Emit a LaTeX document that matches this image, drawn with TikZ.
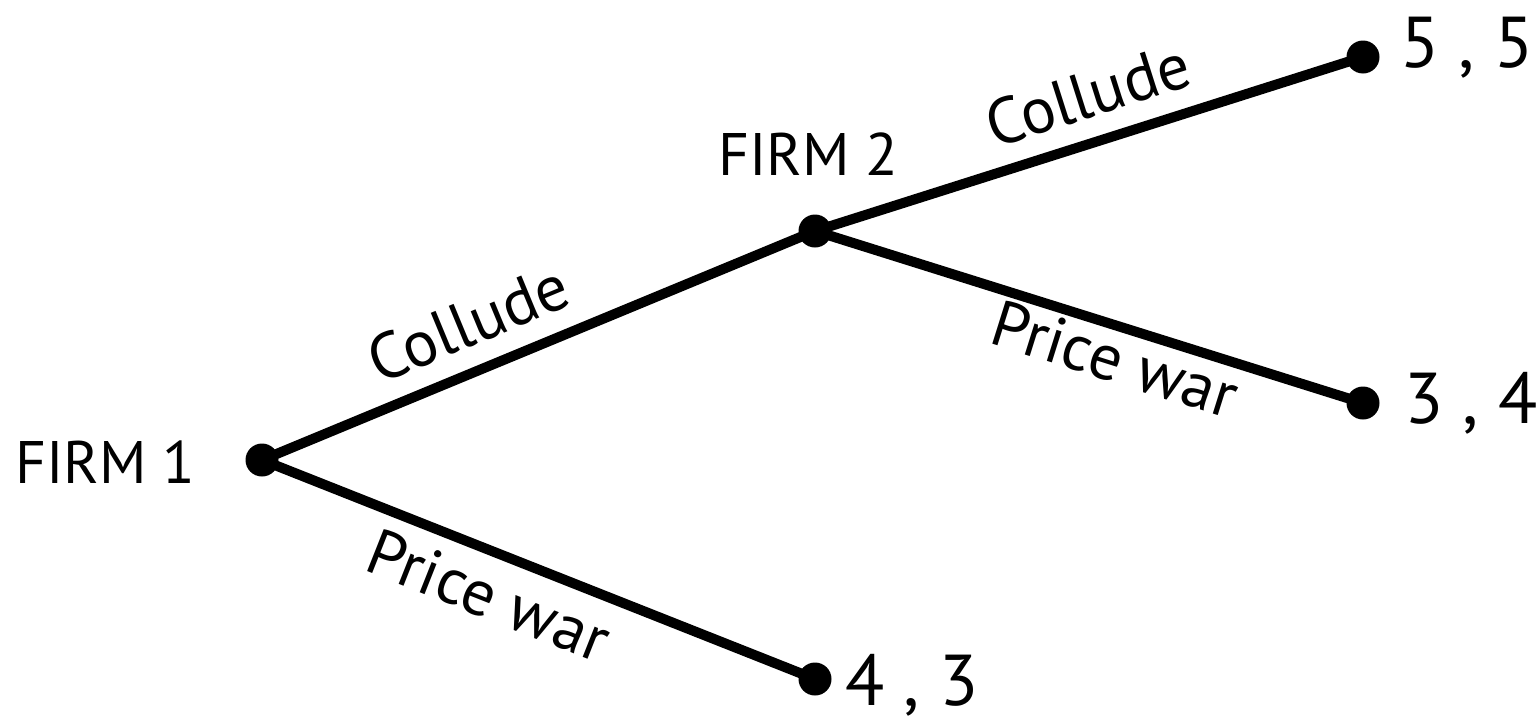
\documentclass[tikz,border=0pt]{standalone}
\usepackage{fontspec}
\setmainfont{PT Sans}
\begin{document}
\begin{tikzpicture}[x=1pt,y=-1pt,
  branch/.style={line width=10pt, shorten <=-4pt, shorten >=-4pt},
  dot/.style={circle, fill=black, inner sep=0pt, minimum size=33pt},
  player/.style={font=\fontsize{60}{72}\selectfont, inner sep=0pt, anchor=base west},
  lbl/.style={font=\fontsize{65}{78}\selectfont, inner sep=0pt},
  pay/.style={font=\fontsize{72}{86}\selectfont, inner sep=0pt, anchor=base west}]
\useasboundingbox (0,0) rectangle (1538,718);
\node[dot] (f1) at (262,460) {};
\node[dot] (f2) at (815,231) {};
\node[dot] (t55) at (1363,57) {};
\node[dot] (t34) at (1363,403) {};
\node[dot] (t43) at (815,679) {};
\draw[branch] (f1) -- node[lbl, sloped, pos=0.40, above=19pt] {Collude} (f2);
\draw[branch] (f1) -- node[lbl, sloped, pos=0.435, below=14pt] {Price war} (t43);
\draw[branch] (f2) -- node[lbl, sloped, pos=0.525, above=19pt] {Collude} (t55);
\draw[branch] (f2) -- node[lbl, sloped, pos=0.57, below=4pt] {Price war} (t34);
\node[player] (n1) at (15,483) {FIRM 1};
\node[player] (n2) at (718,175) {FIRM 2};
\node[pay] (p55) at (1400,67) {5 , 5};
\node[pay] (p34) at (1404,423) {3 , 4};
\node[pay] (p43) at (845,705) {4 , 3};
\end{tikzpicture}
\end{document}
